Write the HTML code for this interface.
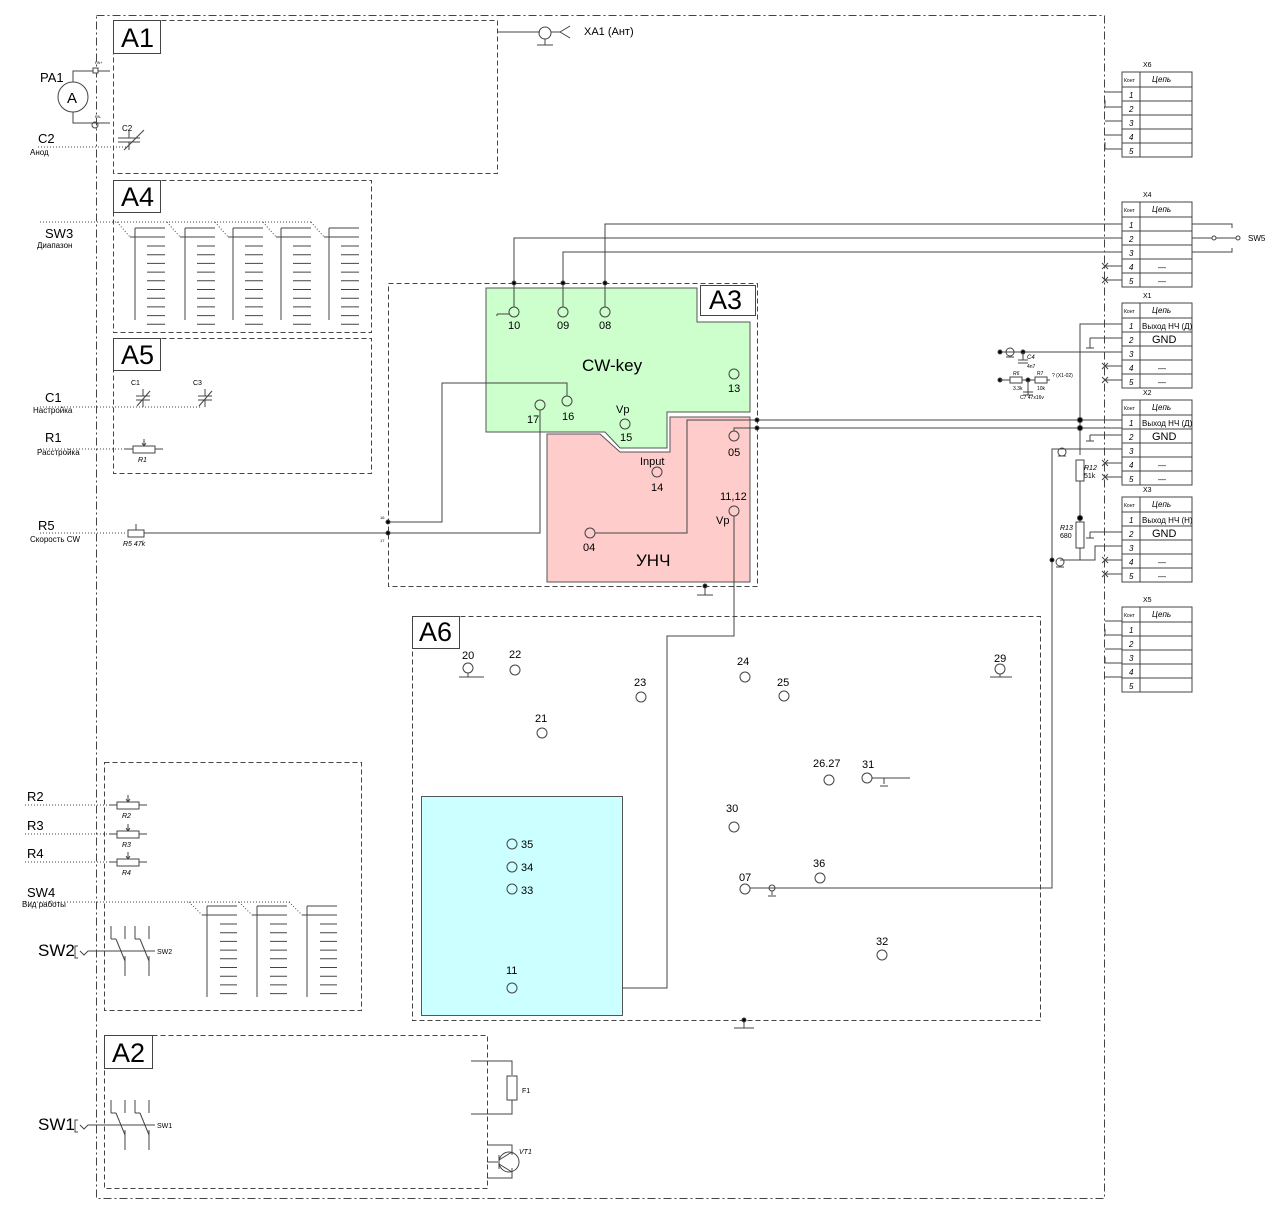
<!DOCTYPE html>
<html><head><meta charset="utf-8"><style>
html,body{margin:0;padding:0;background:#fff;}
svg{display:block;font-family:"Liberation Sans",sans-serif;}
</style></head><body>
<svg id="s" width="1280" height="1211" viewBox="0 0 1280 1211" xmlns="http://www.w3.org/2000/svg">
<g fill="none" stroke="#444" stroke-width="1">
<rect x="96.5" y="15.5" width="1008" height="1183" stroke-dasharray="8,3,2,3"/>
<rect x="113.5" y="20.5" width="384" height="153" stroke-dasharray="5,3"/>
<rect x="113.5" y="180.5" width="258" height="152" stroke-dasharray="5,3"/>
<rect x="113.5" y="338.5" width="258" height="135" stroke-dasharray="5,3"/>
<rect x="104.5" y="762.5" width="257" height="248" stroke-dasharray="5,3"/>
<rect x="104.5" y="1035.5" width="383" height="153" stroke-dasharray="5,3"/>
<rect x="388.5" y="283.5" width="369" height="303" stroke-dasharray="5,3"/>
<rect x="412.5" y="616.5" width="628" height="404" stroke-dasharray="5,3"/>
</g>
<polygon points="486,288 697,288 697,322 750,322 750,412 667,412 667,448 620,448 605,432 486,432" fill="#ccffcc" stroke="#555"/>
<polygon points="547,434 600,434 620,452 670,452 670,417 750,417 750,582 547,582" fill="#ffcccc" stroke="#555"/>
<rect x="421.5" y="796.5" width="201" height="219" fill="#ccffff" stroke="#555"/>
<g fill="#fff" stroke="#444">
<rect x="113.5" y="20.5" width="47" height="33"/>
<rect x="113.5" y="180.5" width="47" height="32"/>
<rect x="113.5" y="338.5" width="47" height="32"/>
<rect x="104.5" y="1035.5" width="48" height="33"/>
<rect x="700.5" y="285.5" width="55" height="30"/>
<rect x="412.5" y="616.5" width="47" height="32"/>
</g>
<g font-size="27" fill="#000">
<text x="121" y="47">A1</text><text x="121" y="206">A4</text><text x="121" y="364">A5</text>
<text x="112" y="1062">A2</text><text x="709" y="309">A3</text><text x="419" y="641">A6</text>
</g>
<text x="582" y="371" font-size="17">CW-key</text>
<text x="636" y="566" font-size="17">УНЧ</text>
<g id="dyn" fill="none" stroke="#444"></g>
<g id="txt" font-size="11" fill="#000"></g>
</svg>
<script>
var NS="http://www.w3.org/2000/svg",g=document.getElementById('dyn'),t=document.getElementById('txt');
function L(x1,y1,x2,y2,a){var e=document.createElementNS(NS,'line');e.setAttribute('x1',x1);e.setAttribute('y1',y1);e.setAttribute('x2',x2);e.setAttribute('y2',y2);if(a)for(var k in a)e.setAttribute(k,a[k]);g.appendChild(e);}
function P(d,a){var e=document.createElementNS(NS,'path');e.setAttribute('d',d);if(a)for(var k in a)e.setAttribute(k,a[k]);g.appendChild(e);}
function C(x,y,r,f){var e=document.createElementNS(NS,'circle');e.setAttribute('cx',x);e.setAttribute('cy',y);e.setAttribute('r',r);if(f)e.setAttribute('fill',f);g.appendChild(e);}
function R(x,y,w,h){var e=document.createElementNS(NS,'rect');e.setAttribute('x',x);e.setAttribute('y',y);e.setAttribute('width',w);e.setAttribute('height',h);e.setAttribute('fill','#fff');g.appendChild(e);}
function T(x,y,s,sz,a){var e=document.createElementNS(NS,'text');e.setAttribute('x',x);e.setAttribute('y',y);e.setAttribute('font-size',sz||11);if(a)for(var k in a)e.setAttribute(k,a[k]);e.textContent=s;t.appendChild(e);}
var dot={"stroke-dasharray":"1,2"};
L(497,32,540,32);C(545,33,6);L(545,39,545,45);L(537,45,553,45);L(551,32,560,32);L(560,32,570,26);L(560,32,570,38);
T(584,35,"XA1  (Ант)",11);
C(73,97,15);T(67,103,"A",15);T(40,82,"PA1",13);
P("M73,82 V71 H110 M73,112 V123 H110");R(93,68,5,5);C(95,125,3);
T(95,64,"PA+",4);T(95,118,"PA-",4);
T(38,143,"C2",13);T(30,155,"Анод",8);L(38,147,128,147,dot);
L(118,138,140,138);L(118,142,140,142);L(129,130,129,138);L(129,142,129,150);L(124,150,144,130);T(122,131,"C2",8);
L(40,222,312,222,dot);T(45,238,"SW3",13);T(37,248,"Диапазон",8);
var xs=[135,185,233,281,329];
xs.forEach(function(x,i){L(x,228,x,320);L(x,228,x+30,228);L(x-5,237,x+30,237);
 for(var j=0;j<10;j++)L(x+12,246+j*8.7,x+30,246+j*8.7);
 L(x-18,222,x-5,237,dot);});
T(45,402,"C1",13);T(33,413,"Настройка",8);L(40,407,200,407,dot);
function cap(x,y,l){L(x-7,y-3,x+7,y-3);L(x-7,y+1,x+7,y+1);L(x,y-10,x,y-3);L(x,y+1,x,y+8);L(x-6,y+7,x+7,y-8);T(x-12,y-14,l,7);}
cap(143,399,"C1");cap(205,399,"C3");
T(45,442,"R1",13);T(37,455,"Расстройка",8);L(40,449,126,449,dot);
function res(x,y,l){L(x-8,y,x+30,y);R(x,y-3,22,7);L(x+11,y-10,x+11,y-4);P("M"+(x+9)+","+(y-6)+" l2,3 l2,-3");T(x+5,y+13,l,7,{"font-style":"italic"});}
res(133,449,"R1");
T(38,530,"R5",13);T(30,542,"Скорость CW",8);L(40,533,126,533,dot);
R(128,530,16,7);L(136,524,136,530);T(123,546,"R5   47k",7,{"font-style":"italic"});
L(144,533,388,533);
P("M388,522 H442 V383 H567 V396");P("M388,533 H540 V410");
C(388,522,2,"#000");C(388,533,2,"#000");T(380,519,"16",4);T(380,542,"17",4);
[[514,312],[563,312],[605,312],[734,374],[567,401],[540,405],[625,424],[734,436],[657,472],[590,533],[734,511]].forEach(function(p){C(p[0],p[1],5);});
T(508,329,"10");T(557,329,"09");T(599,329,"08");T(728,392,"13");T(562,420,"16");T(527,423,"17");T(616,413,"Vp");T(620,441,"15");
T(728,456,"05");T(640,465,"Input");T(651,491,"14");T(583,551,"04");T(720,500,"11,12");T(716,524,"Vp");
L(497,314,509,314);L(497,314,497,316);
P("M1122,224 H605 V307");P("M1122,238 H514 V307");P("M1122,252 H563 V307");
C(514,283,2,"#000");C(563,283,2,"#000");C(605,283,2,"#000");
P("M595,533 H687 V420 H1122");P("M734,431 V428 H1122");
C(757,420,2,"#000");C(757,428,2,"#000");
L(705,586,705,595);L(697,595,713,595);C(705,586,2,"#000");
P("M734,516 V636 H667 V988 H622");
P("M1122,324 H1080 V455 M1080,481 V522 M1080,548 V560");L(1072,560,1088,560);
R(1076,460,8,21);R(1076,522,8,26);
C(1080,420,2.5,"#000");C(1080,428,2.5,"#000");C(1080,518,2.5,"#000");
T(1084,470,"R12",7,{"font-style":"italic"});T(1084,478,"51k",7);T(1060,530,"R13",7,{"font-style":"italic"});T(1060,538,"680",7);
L(1122,338,1090,338);L(1090,338,1090,348);L(1086,348,1094,348);
L(1122,435,1090,435);L(1090,435,1090,441);L(1086,441,1094,441);
L(1122,532,1090,532);L(1090,532,1090,538);L(1086,538,1094,538);
P("M1122,449 H1052 V888 H750");C(1062,452,4);L(1058,456,1066,456);
P("M1122,546 H1095 V560 H1060");C(1060,562,4);C(1052,560,2,"#000");L(1056,567,1064,567);
P("M1000,352 H1122");C(1000,352,2,"#000");C(1010,352,4);L(1006,357,1014,357);C(1023,352,2,"#000");L(1023,352,1023,360);L(1018,360,1028,360);L(1018,363,1028,363);T(1027,359,"C4",6,{"font-style":"italic"});T(1027,368,"4n7",5);
C(1000,380,2,"#000");L(1000,380,1050,380);R(1010,377,12,6);R(1035,377,12,6);C(1028,380,2,"#000");L(1028,380,1028,395);L(1023,392,1033,392);L(1023,395,1033,395);
T(1013,375,"R6",5,{"font-style":"italic"});T(1037,375,"R7",5);T(1052,377,"? (X1-02)",5);T(1013,390,"3.3k",5);T(1037,390,"10k",5);T(1020,399,"C7  47x16v",5);
function tbl(y,name,rows){R(1122,y,70,85);L(1122,y+15,1192,y+15);for(var i=1;i<5;i++)L(1122,y+15+i*14,1192,y+15+i*14);L(1140,y,1140,y+85);
 T(1143,y-5,name,7);T(1124,y+10,"Конт",5);T(1152,y+10,"Цепь",8,{"font-style":"italic"});
 for(i=0;i<5;i++){T(1129,y+26+i*14,String(i+1),8,{"font-style":"italic"});if(rows[i]){var big=rows[i]=="GND";T(big?1152:rows[i]=="—"?1158:1142,y+26+i*14,rows[i],big?11:8);}}}
tbl(72,"X6",[]);tbl(202,"X4",["","","","—","—"]);tbl(303,"X1",["Выход НЧ (Д)","GND","","—","—"]);
tbl(400,"X2",["Выход НЧ (Д)","GND","","—","—"]);tbl(497,"X3",["Выход НЧ (Н)","GND","","—","—"]);tbl(607,"X5",[]);
[[92,0],[107,1],[121,0],[135,0],[149,1]].forEach(function(r){P("M1122,"+r[0]+" H1105"+(r[1]?" V"+(r[0]-7):""));});
[[266],[280],[366],[380],[463],[477],[560],[574]].forEach(function(r){L(1122,r[0],1105,r[0]);L(1102,r[0]-3,1108,r[0]+3);L(1102,r[0]+3,1108,r[0]-3);});
[621,635,649,663,677].forEach(function(y,i){L(1122,y,1105,y);if(i%2)L(1105,y,1105,y-6);});
P("M1192,224 H1232 V228 M1192,252 H1232 V248 M1192,238 H1212");C(1214,238,2);L(1216,238,1236,238);C(1238,238,2);T(1248,241,"SW5",8);
[[468,668,"20",462,659],[515,670,"22",509,658],[641,697,"23",634,686],[542,733,"21",535,722],[745,677,"24",737,665],[784,696,"25",777,686],[1000,669,"29",994,662],[829,780,"26.27",813,767],[867,778,"31",862,768],[734,827,"30",726,812],[820,878,"36",813,867],[882,955,"32",876,945],[512,844,"35",521,848],[512,867,"34",521,871],[512,889,"33",521,894],[512,988,"11",506,974],[745,889,"07",739,881]].forEach(function(p){C(p[0],p[1],5);T(p[3],p[4],p[2]);});
L(459,677,484,677);L(468,673,468,677);L(990,677,1012,677);L(1000,674,1000,677);
L(872,778,910,778);L(884,778,884,784);L(880,786,888,786);
C(772,888,3);L(772,891,772,895);L(768,896,776,896);
L(744,1020,744,1028);L(734,1028,754,1028);C(744,1020,2,"#000");
[["R2",805],["R3",834],["R4",862]].forEach(function(r){T(27,r[1]-4,r[0],13);L(25,r[1],110,r[1],dot);res(117,r[1],r[0]);});
T(27,897,"SW4",13);T(22,907,"Вид работы",8);L(25,902,290,902,dot);
[207,257,307].forEach(function(x){L(x,906,x,997);L(x,906,x+30,906);L(x-5,915,x+30,915);for(var j=0;j<9;j++)L(x+13,924+j*8.7,x+30,924+j*8.7);L(x-18,902,x-5,915,dot);});
function sw(y,lbl){T(38,y+5,lbl,17);P("M78,"+(y-5)+" h-3 v12 h3");P("M80,"+y+" l4,4 l4,-4 H155",{});
 [111,135].forEach(function(x){L(x,y-25,x,y-12);L(x,y-12,x+5,y-12);L(x+5,y-12,x+14,y+10);L(x+14,y+5,x+14,y+25);L(x+14,y-25,x+14,y-12);});
 T(157,y+3,lbl,7);}
sw(951,"SW2");sw(1125,"SW1");
P("M471,1061 H512 V1075 M512,1100 V1114 H471");R(507,1076,10,24);T(522,1093,"F1",7);
P("M487,1145 H512 V1155 M487,1162 H498 M487,1178 H512 V1168");C(509,1162,10);L(499,1155,499,1169);L(499,1160,512,1152);L(499,1164,512,1172);T(519,1154,"VT1",7,{"font-style":"italic"});
</script>
</body></html>
